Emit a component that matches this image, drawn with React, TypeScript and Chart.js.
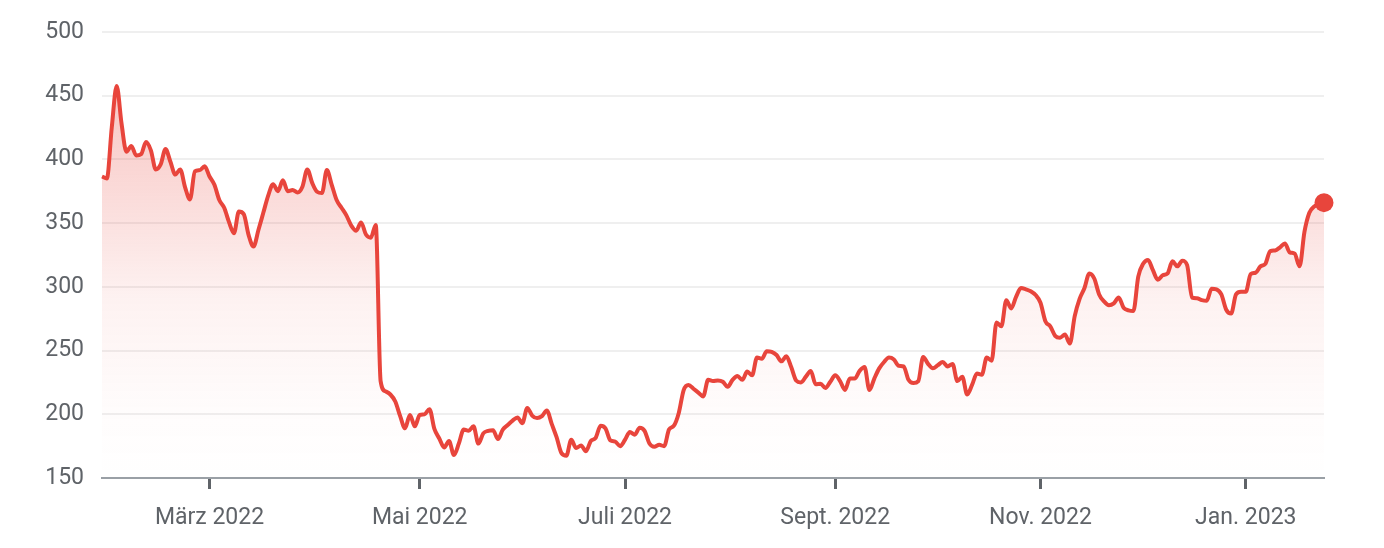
import Chart from "chart.js/auto";
import { useEffect, useRef } from "react";

// daily closing prices, one per trading day (27 Jan 2022 .. 26 Jan 2023)
const prices = [
  386.5, 385, 425, 457.5, 428, 406, 410.5, 403, 404, 413.5,
  407, 392, 396, 408, 398, 388, 392, 378, 368.5, 390.5,
  391.5, 394.5, 386.5, 380, 368, 362, 350.5, 342, 359, 357,
  340.5, 331.5, 344.5, 358, 371.5, 380.5, 375, 383.5, 375, 376,
  374, 378.5, 392, 381.5, 374.5, 373.5, 391.5, 380, 368, 362,
  356, 348, 344, 350.5, 341, 338.5, 348.5, 226, 218, 215.5,
  210, 198.5, 189, 199.5, 190.5, 199.5, 200, 204, 188.5, 181,
  174, 179, 168, 177, 188, 187, 190.5, 177, 185, 187,
  187.5, 180.5, 188, 191.5, 195, 197.5, 193, 205, 199, 197,
  198.5, 203, 192.5, 182, 169.5, 167.5, 180, 173.5, 175.5, 171,
  179, 181.5, 191, 189, 179.5, 178.5, 175, 180, 186, 184,
  189.5, 187, 177, 174.5, 176, 175, 188, 191, 201, 219,
  223, 220, 217, 214, 227, 226, 226.5, 225.5, 221.5, 227,
  230, 227, 233.5, 230.5, 244.5, 243.5, 249.5, 249, 246.5, 241.5,
  245.5, 237, 226.5, 225, 229.5, 234, 223.5, 224, 220.5, 225.5,
  230.5, 226, 219, 228, 228, 234, 237, 219, 228, 236,
  241, 244.5, 243, 238, 237.5, 227, 224.5, 226, 245, 239.5,
  236, 238.5, 241, 237.5, 239.5, 226, 229.5, 215.5, 223, 232,
  231, 244.5, 242, 272, 269, 289.5, 283, 292, 299, 298,
  296.5, 293.5, 287.5, 273, 269, 261.5, 260, 262.5, 255.5, 277,
  290.5, 299, 310.5, 306.5, 294, 288.5, 285.5, 287, 291.5, 283.5,
  281.5, 281, 308, 318, 321, 313, 305.5, 309, 310.5, 320,
  316, 320.5, 317, 291.5, 291, 289.5, 289, 298.5, 298, 294,
  282, 279, 294, 296, 296, 310, 311, 316, 318, 328,
  328.5, 331, 334, 327, 326, 316, 343, 358, 363, 364.5,
  366,
];

// index of the first trading day of each labelled month
const monthTickIndex = [22, 65, 107, 150, 192, 234];
const monthTickLabels = ["März 2022", "Mai 2022", "Juli 2022", "Sept. 2022", "Nov. 2022", "Jan. 2023"];

const yTicks = [150, 200, 250, 300, 350, 400, 450, 500];

const RED = "#e8453c";
const TEXT = "#5f6368";

export default function App() {
  const canvasRef = useRef<HTMLCanvasElement | null>(null);

  useEffect(() => {
    if (!canvasRef.current) {
      return;
    }

    const canvas = canvasRef.current.getContext("2d");

    if (!canvas) {
      return;
    }

    const last = prices.length - 1;

    const chart = new Chart(canvas, {
      type: "line",
      data: {
        datasets: [
          {
            data: prices.map((p, i) => ({ x: i, y: p })),
            borderColor: RED,
            borderWidth: 4,
            cubicInterpolationMode: "monotone",
            fill: "start",
            clip: false,
            backgroundColor: (ctx: any) => {
              const area = ctx.chart.chartArea;
              if (!area) return "rgba(232,69,60,0.1)";
              // fades out well before the bottom of the plot
              const g = ctx.chart.ctx.createLinearGradient(0, area.top, 0, area.bottom);
              g.addColorStop(0, "rgba(232,69,60,0.36)");
              g.addColorStop(0.35, "rgba(232,69,60,0.2)");
              g.addColorStop(0.6, "rgba(232,69,60,0.07)");
              g.addColorStop(0.85, "rgba(232,69,60,0.015)");
              g.addColorStop(1, "rgba(232,69,60,0)");
              return g;
            },
            pointRadius: prices.map((_, i) => (i === last ? 9.5 : 0)),
            pointBackgroundColor: RED,
            pointBorderWidth: 0,
            pointHoverRadius: 0,
          },
        ],
      },
      options: {
        responsive: true,
        maintainAspectRatio: false,
        animation: false,
        events: [],
        layout: {
          padding: { top: 31, right: 60, left: 0, bottom: 0 },
        },
        plugins: {
          legend: { display: false },
          tooltip: { enabled: false },
        },
        scales: {
          x: {
            type: "linear",
            min: 0,
            max: last,
            afterFit: (scale: any) => {
              scale.height = 70;
            },
            afterBuildTicks: (scale: any) => {
              scale.ticks = monthTickIndex.map((v) => ({ value: v }));
            },
            border: { display: true, color: "#9aa0a6", width: 2 },
            grid: {
              drawOnChartArea: false,
              drawTicks: true,
              tickLength: 11,
              tickWidth: 3,
              tickColor: TEXT,
            },
            ticks: {
              autoSkip: false,
              maxRotation: 0,
              padding: 15,
              color: TEXT,
              font: { family: "Roboto", size: 23 },
              callback: (value: any) => {
                const k = monthTickIndex.indexOf(Number(value));
                return k >= 0 ? monthTickLabels[k] : "";
              },
            },
          },
          y: {
            min: 150,
            max: 500,
            afterFit: (scale: any) => {
              scale.width = 102;
            },
            afterBuildTicks: (scale: any) => {
              scale.ticks = yTicks.map((v) => ({ value: v }));
            },
            border: { display: false },
            grid: {
              color: "#efefef",
              lineWidth: 2,
              drawTicks: false,
            },
            ticks: {
              padding: 18,
              color: TEXT,
              font: { family: "Roboto", size: 23 },
            },
          },
        },
      },
    });

    return () => {
      chart.destroy();
    };
  }, []);

  return (
    <div
      style={{
        position: "absolute",
        left: 0,
        top: 0,
        width: "1384px",
        height: "548px",
        background: "#ffffff",
      }}
    >
      <canvas ref={canvasRef}></canvas>
    </div>
  );
}
